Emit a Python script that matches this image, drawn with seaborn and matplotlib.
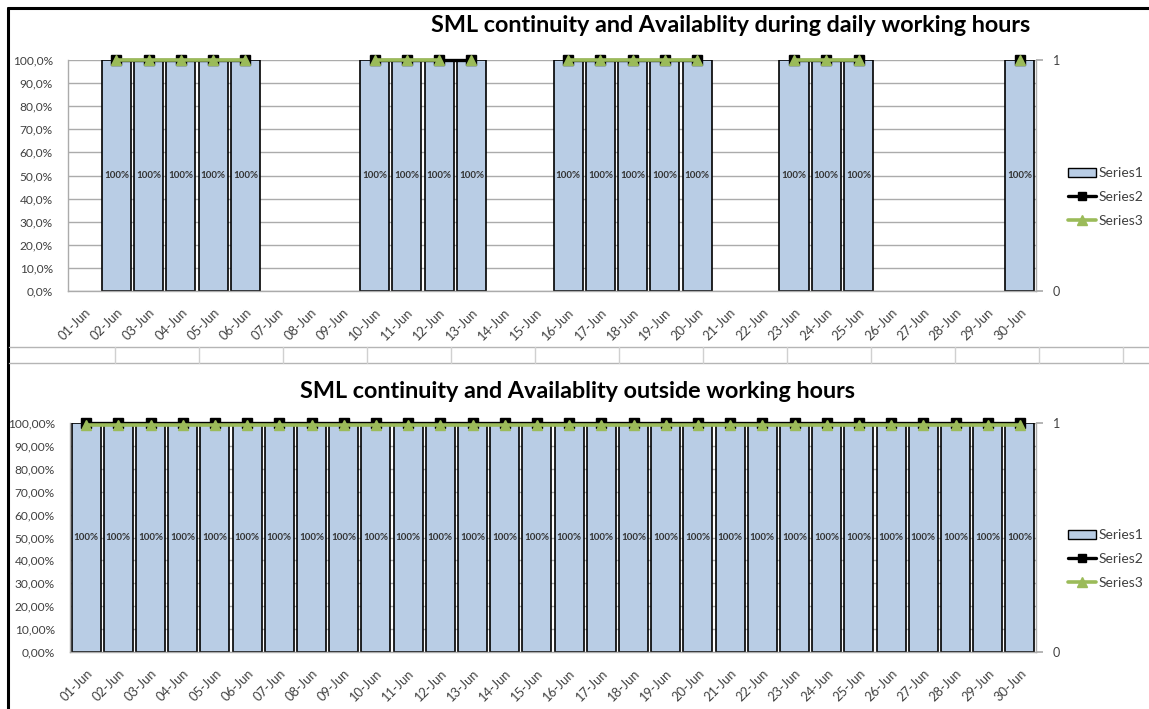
import numpy as np
import pandas as pd
import matplotlib
matplotlib.use("Agg")
import matplotlib.pyplot as plt
import seaborn as sns
from matplotlib.patches import Patch
from matplotlib.lines import Line2D

sns.set_theme(style="white")
plt.rcParams['font.family'] = ['Lato', 'DejaVu Sans']

N = None
days = ["01-Jun", "02-Jun", "03-Jun", "04-Jun", "05-Jun", "06-Jun", "07-Jun", "08-Jun",
        "09-Jun", "10-Jun", "11-Jun", "12-Jun", "13-Jun", "14-Jun", "15-Jun", "16-Jun",
        "17-Jun", "18-Jun", "19-Jun", "20-Jun", "21-Jun", "22-Jun", "23-Jun", "24-Jun",
        "25-Jun", "26-Jun", "27-Jun", "28-Jun", "29-Jun", "30-Jun"]

top_title = "SML continuity and Availablity during daily working hours"
bottom_title = "SML continuity and Availablity outside working hours"

top_series1 = [N, 1, 1, 1, 1, 1, N, N, N, 1, 1, 1, 1, N, N, 1, 1, 1, 1, 1, N, N, 1, 1, 1, N, N, N, N, 1]
top_series2 = [N, 1, 1, 1, 1, 1, N, N, N, 1, 1, 1, 1, N, N, 1, 1, 1, 1, 1, N, N, 1, 1, 1, N, N, N, N, 1]
top_series3 = [N, 1, 1, 1, 1, 1, N, N, N, 1, 1, 1, 1, N, N, 1, 1, 1, 1, 1, N, N, 1, 1, 1, N, N, N, N, 1]
top_series3_breaks = ["13-Jun"]  # line not joined into these days

bottom_series1 = [1] * 30
bottom_series2 = [1] * 30
bottom_series3 = [0.99] * 30
bottom_series3_breaks = []

top_yticks = [0.0, 0.1, 0.2, 0.3, 0.4, 0.5, 0.6, 0.7, 0.8, 0.9, 1.0]
top_ylabels = ["0,0%", "10,0%", "20,0%", "30,0%", "40,0%", "50,0%", "60,0%", "70,0%", "80,0%", "90,0%", "100,0%"]
bottom_ylabels = ["0,00%", "10,00%", "20,00%", "30,00%", "40,00%", "50,00%", "60,00%", "70,00%", "80,00%", "90,00%", "100,00%"]

BAR = "#B9CDE5"
GREEN = "#9BBB59"
GRID = "#ABABAB"
TXT = "#404040"

W, H = 1149, 709
fig = plt.figure(figsize=(W / 100, H / 100), dpi=100)
fig.patch.set_facecolor("white")


def rect(l, t, r, b):
    return [l / W, 1 - b / H, (r - l) / W, (b - t) / H]


def draw_chart(box, s1, s2, s3, breaks, ylabels, title, title_x, title_y, leg_y):
    ax = fig.add_axes(rect(*box))
    df = pd.DataFrame({"day": days, "v": pd.Series(s1, dtype=float)})
    sns.barplot(data=df, x="day", y="v", order=days, color=BAR, width=0.9,
                edgecolor="black", linewidth=1.2, saturation=1, ax=ax, zorder=2)
    ax.set_ylim(0, 1)
    ax.set_xlim(-0.5, len(days) - 0.5)
    ax.set_yticks(top_yticks)
    ax.set_yticklabels(ylabels, fontsize=8.6, color=TXT)
    ax.yaxis.grid(True, color=GRID, linewidth=1, zorder=0)
    ax.set_axisbelow(True)
    ax.set_xlabel("")
    ax.set_ylabel("")
    ax.tick_params(axis="y", length=0, pad=11)
    ax.tick_params(axis="x", length=0, pad=11)
    ax.set_xticks(range(len(days)))
    ax.set_xticklabels(days, rotation=45, ha="right", va="top", rotation_mode="anchor",
                       fontsize=9.3, color=TXT)
    for sp in ["left", "bottom", "right"]:
        ax.spines[sp].set_color(GRID)
        ax.spines[sp].set_linewidth(1)
    ax.spines["top"].set_visible(False)
    for i, v in enumerate(s1):
        if v is not None:
            ax.text(i, 0.5, f"{v * 100:.0f}%", ha="center", va="center", fontsize=7.0,
                    color="#333333", fontweight="bold", zorder=5)

    ax2 = ax.twinx()
    ax2.set_ylim(0, 1)
    ax2.set_yticks([0, 1])
    ax2.set_yticklabels(["0", "1"], fontsize=9, color=TXT)
    ax2.tick_params(axis="y", length=5, color=GRID, pad=7)
    for sp in ax2.spines.values():
        sp.set_visible(False)
    x = np.arange(len(days))
    y2 = np.array(pd.Series(s2, dtype=float))
    y3 = np.array(pd.Series(s3, dtype=float))
    ax2.plot(x, y2, color="black", linewidth=2.4, marker="s", markersize=6.5,
             clip_on=False, zorder=3)
    # Series3: line drawn in runs, markers for all points
    run = []
    for i, d in enumerate(days):
        if np.isnan(y3[i]) or d in breaks:
            if len(run) > 1:
                ax2.plot(x[run], y3[run], color=GREEN, linewidth=2.6, clip_on=False, zorder=4)
            run = []
        if not np.isnan(y3[i]):
            run.append(i)
    if len(run) > 1:
        ax2.plot(x[run], y3[run], color=GREEN, linewidth=2.6, clip_on=False, zorder=4)
    ax2.plot(x, y3, linestyle="none", marker="^", markersize=7, color=GREEN,
             markeredgecolor=GREEN, clip_on=False, zorder=5)

    fig.text(title_x / W, 1 - title_y / H, title, ha="center", va="center",
             fontsize=16.8, fontweight="bold", color="black")

    handles = [Patch(facecolor=BAR, edgecolor="black", linewidth=1),
               Line2D([0], [0], color="black", linewidth=2.4, marker="s", markersize=6),
               Line2D([0], [0], color=GREEN, linewidth=2.6, marker="^", markersize=6.5)]
    fig.legend(handles, ["Series1", "Series2", "Series3"], loc="center left",
               bbox_to_anchor=(1068 / W, 1 - leg_y / H), frameon=False, fontsize=10,
               handlelength=2.0, handleheight=0.6, handletextpad=0.2, labelspacing=0.85,
               borderpad=0, borderaxespad=0, labelcolor=TXT)
    return ax


draw_chart((68, 60, 1036, 291), top_series1, top_series2, top_series3, top_series3_breaks,
           top_ylabels, top_title, 731, 25, 197)
draw_chart((70, 423, 1036, 652), bottom_series1, bottom_series2, bottom_series3,
           bottom_series3_breaks, bottom_ylabels, bottom_title, 578, 392, 559)

# sheet frame and cell strip
fig.add_artist(Line2D([8 / W, 8 / W], [0, 1 - 8 / H], color="black", linewidth=2.2))
fig.add_artist(Line2D([8 / W, 1], [1 - 8 / H, 1 - 8 / H], color="black", linewidth=2.2))
for yy in (347, 363):
    fig.add_artist(Line2D([9 / W, 1], [1 - yy / H, 1 - yy / H], color="#B5B5B5", linewidth=1))
for xx in range(115, W, 84):
    fig.add_artist(Line2D([xx / W, xx / W], [1 - 347 / H, 1 - 363 / H], color="#D0D0D0", linewidth=1))

fig.savefig("out.png", dpi=100)
